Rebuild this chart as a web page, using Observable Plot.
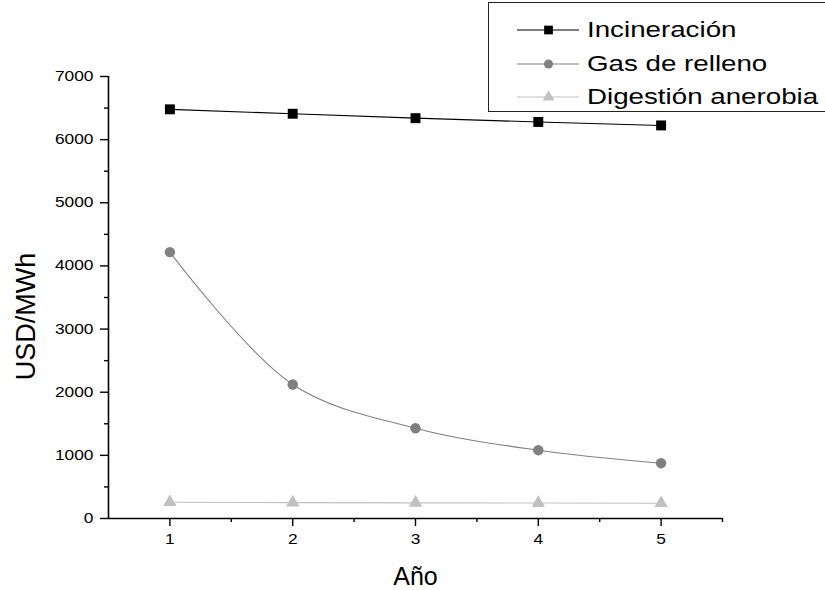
<!DOCTYPE html>
<html><head><meta charset="utf-8">
<script src="https://cdn.jsdelivr.net/npm/d3@7"></script>
<script src="https://cdn.jsdelivr.net/npm/@observablehq/plot@0.6"></script>
<style>
body{margin:0;background:#fff;font-family:"Liberation Sans",Arial,sans-serif;}
#wrap{position:relative;width:825px;height:590px;overflow:hidden;}
#legend{position:absolute;left:488px;top:2px;width:345px;height:110px;border:1px solid #222;background:#fff;box-sizing:border-box;}
.row{position:absolute;left:0;height:30px;display:flex;align-items:center;}
.row svg{display:block}
.row span{display:inline-block;font-size:22px;color:#000;margin-left:6px;white-space:nowrap;transform:scaleX(1.26);transform-origin:0 50%}
</style></head><body><div id="wrap"><div id="legend"></div></div>
<script>
const years = [1, 2, 3, 4, 5];
const incineracion = [6480, 6410, 6340, 6280, 6225];
const gasRelleno = [4218, 2122, 1430, 1082, 876];
const digestion = [258, 252, 248, 245, 242];
const seriesNames = ["Incineración", "Gas de relleno", "Digestión anerobia"];
const seriesColors = ["#000000", "#808080", "#c0c0c0"];
const seriesSymbols = ["square", "circle", "triangle"];
const seriesR = [5.6, 5.2, 5];
const yTicks = [0, 1000, 2000, 3000, 4000, 5000, 6000, 7000];
const yMinor = [500, 1500, 2500, 3500, 4500, 5500, 6500];
const xTicks = [1, 2, 3, 4, 5];
const xMinor = [1.5, 2.5, 3.5, 4.5, 5.5];
const xTitle = "Año";
const yTitle = "USD/MWh";

const seriesValues = [incineracion, gasRelleno, digestion];
const seriesData = seriesValues.map((vals, i) => years.map((x, j) => ({x, y: vals[j], s: seriesNames[i]})));
const fmt = d3.format("d");
const font = "'Liberation Sans', Arial, sans-serif";

const marks = [];
marks.push(Plot.ruleY([0], {x1: 0.5, x2: 5.5, stroke: "#000", strokeWidth: 1.6}));
marks.push(Plot.ruleX([0.5], {y1: 0, y2: 7000, stroke: "#000", strokeWidth: 1.6}));
marks.push(Plot.axisY({ticks: yTicks, tickSize: 8, tickPadding: 7, fontSize: 14, label: null, strokeWidth: 1.4, tickFormat: fmt, ariaLabel: "ymajor"}));
marks.push(Plot.axisY({ticks: yMinor, tickSize: 4, tickFormat: () => "", label: null, strokeWidth: 1.4}));
marks.push(Plot.axisX({ticks: xTicks, tickSize: 8, tickPadding: 8, fontSize: 14, label: null, strokeWidth: 1.4, tickFormat: fmt, ariaLabel: "xmajor"}));
marks.push(Plot.axisX({ticks: xMinor, tickSize: 4, tickFormat: () => "", label: null, strokeWidth: 1.4}));
seriesData.forEach((d, i) => {
  marks.push(Plot.line(d, {x: "x", y: "y", stroke: seriesColors[i], strokeWidth: 1.1, curve: i === 1 ? "catmull-rom" : "linear"}));
});
seriesData.forEach((d, i) => {
  marks.push(Plot.dot(d, {x: "x", y: "y", symbol: () => seriesSymbols[i], fill: seriesColors[i], stroke: "none", r: seriesR[i]}));
});
marks.push(Plot.text([yTitle], {frameAnchor: "left", text: d => d, rotate: -90, dx: -82, dy: 19, fontSize: 27, fill: "#000", textAnchor: "middle", lineAnchor: "middle"}));
marks.push(Plot.text([xTitle], {frameAnchor: "bottom", text: d => d, dy: 58, fontSize: 25, fill: "#000", lineAnchor: "middle"}));

const chart = Plot.plot({
  width: 825,
  height: 590,
  marginLeft: 108,
  marginRight: 103,
  marginTop: 76,
  marginBottom: 72,
  x: {domain: [0.5, 5.5], axis: null},
  y: {domain: [0, 7000], axis: null},
  symbol: {type: "identity"},
  style: {fontFamily: font, color: "#000", background: "#fff", overflow: "visible"},
  marks
});
chart.querySelectorAll('g[aria-label="ymajor tick label"] text, g[aria-label="xmajor tick label"] text').forEach(t => {
  const tr = t.getAttribute("transform") || "";
  t.setAttribute("transform", tr + " scale(1.24,1)");
});
chart.style.position = "absolute";
chart.style.left = "0";
chart.style.top = "0";
const wrap = document.getElementById("wrap");
wrap.insertBefore(chart, wrap.firstChild);

const legend = document.getElementById("legend");
const rowCenters = [27, 61, 94];
seriesNames.forEach((name, i) => {
  const row = document.createElement("div");
  row.className = "row";
  row.style.top = (rowCenters[i] - 15) + "px";
  const svg = d3.create("svg").attr("width", 92).attr("height", 30);
  svg.append("line").attr("x1", 28).attr("x2", 90).attr("y1", 15).attr("y2", 15).attr("stroke", seriesColors[i]).attr("stroke-width", 1.2);
  const sym = {square: d3.symbolSquare, circle: d3.symbolCircle, triangle: d3.symbolTriangle}[seriesSymbols[i]];
  const rr = seriesR[i] * 0.88;
  svg.append("path").attr("d", d3.symbol(sym, Math.PI * rr * rr)()).attr("transform", "translate(59.5,15)").attr("fill", seriesColors[i]);
  row.appendChild(svg.node());
  const span = document.createElement("span");
  span.textContent = name;
  row.appendChild(span);
  legend.appendChild(row);
});
</script></body></html>
